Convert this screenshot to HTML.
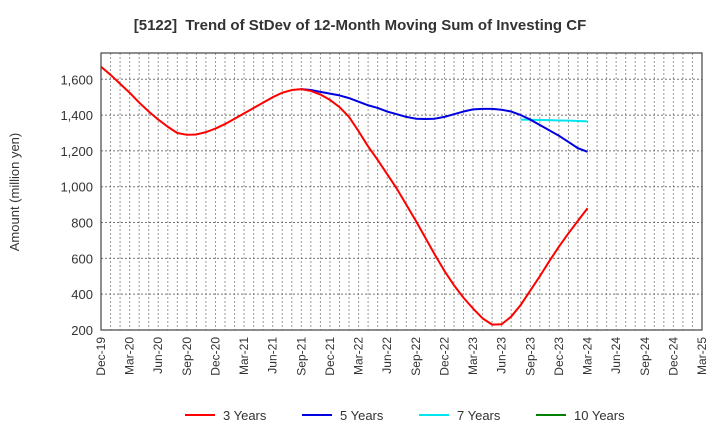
<!DOCTYPE html>
<html><head><meta charset="utf-8"><style>
body{margin:0;background:#fff;font-family:"Liberation Sans",sans-serif}
svg text{font-family:"Liberation Sans",sans-serif}
</style></head><body>
<svg width="720" height="440" id="c">
<text x="360" y="30" text-anchor="middle" font-size="15" font-weight="bold" fill="#333">[5122]&#160; Trend of StDev of 12-Month Moving Sum of Investing CF</text>
<text transform="translate(19,192) rotate(-90)" text-anchor="middle" font-size="13" fill="#333">Amount (million yen)</text>
<g id="grid"></g><g id="series"></g><g id="axes"></g><g id="legend"></g>
</svg>
<script>
const months=["Dec-19","Mar-20","Jun-20","Sep-20","Dec-20","Mar-21","Jun-21","Sep-21","Dec-21","Mar-22","Jun-22","Sep-22","Dec-22","Mar-23","Jun-23","Sep-23","Dec-23","Mar-24","Jun-24","Sep-24","Dec-24","Mar-25"];
const yTicks=[200,400,600,800,1000,1200,1400,1600];
const s3=[1705,1670,1625,1575,1525,1470,1420,1375,1335,1300,1290,1292,1305,1325,1350,1380,1410,1440,1470,1500,1525,1540,1545,1535,1515,1485,1445,1390,1310,1225,1150,1070,990,900,810,715,620,530,450,380,320,265,230,232,275,340,420,500,585,665,740,810,880];
const s3start=-1;
const s5=[1545,1540,1530,1520,1510,1495,1475,1455,1440,1420,1405,1390,1380,1378,1380,1390,1405,1420,1432,1435,1435,1430,1420,1400,1375,1345,1315,1285,1250,1215,1195];
const s5start=21;
const s7=[1375,1374,1373,1372,1370,1369,1367,1365];
const s7start=44;
const NS="http://www.w3.org/2000/svg";
const L=101,R=702,T=53,B=330,nM=63;
const x=m=>L+(R-L)*m/nM;
const y=v=>B-(v-200)*(B-79.3)/1400;
function mk(t,a,p){const e=document.createElementNS(NS,t);for(const k in a)e.setAttribute(k,a[k]);p.appendChild(e);return e;}
const g=document.getElementById('grid'),ax=document.getElementById('axes'),se=document.getElementById('series'),lg=document.getElementById('legend');
for(let m=1;m<nM;m++){const l=mk('line',{x1:x(m),x2:x(m),y1:T,y2:B,stroke:'#999','stroke-dasharray':'2,2','stroke-width':1},g);

}
yTicks.forEach(v=>{if(v>200){const l=mk('line',{x1:L,x2:R,y1:y(v),y2:y(v),stroke:'#777','stroke-dasharray':'2,2','stroke-width':1},g);

}
const t=mk('text',{x:L-8,y:y(v)+5,'text-anchor':'end','font-size':13,fill:'#333'},ax);t.textContent=v.toLocaleString('en-US');

});
const fr=mk('rect',{x:L,y:T,width:R-L,height:B-T,fill:'none',stroke:'#444','stroke-width':1.2},ax);


months.forEach((lab,i)=>{const xx=x(i*3);const t=mk('text',{transform:`translate(${xx+4},${B+7}) rotate(-90)`,'text-anchor':'end','font-size':12,fill:'#333'},ax);t.textContent=lab;

});
function line(data,start,color,name){const pts=[];data.forEach((v,i)=>{if(start+i>=0)pts.push(x(start+i)+','+y(v));});
const p=mk('polyline',{points:pts.join(' '),fill:'none',stroke:color,'stroke-width':2,'stroke-linejoin':'round'},se);

}
line(s7,s7start,'#00e5ee','series-7-years');
line(s5,s5start,'#0000e0','series-5-years');
line(s3,s3start,'#ff0000','series-3-years');
const leg=[["3 Years","#ff0000",185],["5 Years","#0000e0",302],["7 Years","#00e5ee",419],["10 Years","#008000",536]];
leg.forEach(([n,c,lx])=>{const gg=mk('g',{},lg);


mk('line',{x1:lx,x2:lx+30,y1:415,y2:415,stroke:c,'stroke-width':2},gg);
const t=mk('text',{x:lx+38,y:420,'font-size':13,fill:'#333'},gg);t.textContent=n;});
</script>
</body></html>
